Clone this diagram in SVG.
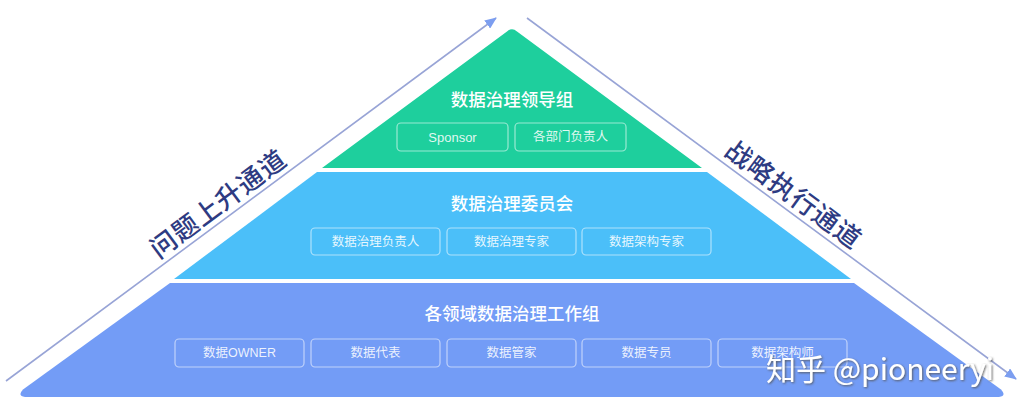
<svg xmlns="http://www.w3.org/2000/svg" width="1024" height="413" viewBox="0 0 1024 413">
<defs>
<style>
.title{font-family:"Noto Sans CJK SC","Liberation Sans",sans-serif;font-size:17.5px;font-weight:500;fill:#ffffff;text-anchor:middle;dominant-baseline:central}
.lbl{font-family:"Liberation Sans","Noto Sans CJK SC",sans-serif;font-size:12.5px;fill:#ffffff;fill-opacity:0.88;text-anchor:middle;dominant-baseline:central}
.box{fill:none;stroke:#ffffff;stroke-opacity:0.55;stroke-width:1.2}
.chan{font-family:"Noto Sans CJK SC",sans-serif;font-size:26px;font-weight:500;fill:#2e3b82;text-anchor:middle;dominant-baseline:central;letter-spacing:1px}
.line{stroke:#98a4d6;stroke-width:1.6;fill:none}
</style>
<marker id="ah" viewBox="0 0 12 10" refX="11" refY="5" markerWidth="12" markerHeight="10" markerUnits="userSpaceOnUse" orient="auto">
<path d="M0,0 L12,5 L0,10 Z" fill="#7c9ef0"/>
</marker>
<filter id="ws" x="-10%" y="-30%" width="120%" height="160%">
<feDropShadow dx="1" dy="1" stdDeviation="0.8" flood-color="#555555" flood-opacity="0.9"/>
</filter>
</defs>
<rect width="1024" height="413" fill="#ffffff"/>

<g id="connectors">
<line class="line" x1="6" y1="381" x2="496" y2="18" marker-end="url(#ah)"/>
<line class="line" x1="527" y1="18" x2="1016" y2="379" marker-end="url(#ah)"/>
</g>

<g id="leadership">
<path d="M322,168 L507,31.5 Q512,27 517,31.5 L702,168 Z" fill="#1ecf9d"/>
<text class="title" x="512" y="98">数据治理领导组</text>
<rect class="box" x="397" y="123" width="111" height="28" rx="4"/>
<text class="lbl" x="452.5" y="137" style="font-size:13px">Sponsor</text>
<rect class="box" x="515" y="123" width="111" height="28" rx="4"/>
<text class="lbl" x="570.5" y="137">各部门负责人</text>
</g>

<g id="committee">
<path d="M317,172 L707,172 L851,279 L174,279 Z" fill="#4bbff9"/>
<text class="title" x="512" y="202">数据治理委员会</text>
<rect class="box" x="311" y="228" width="129" height="27" rx="4"/>
<text class="lbl" x="375.5" y="241.5">数据治理负责人</text>
<rect class="box" x="447" y="228" width="129" height="27" rx="4"/>
<text class="lbl" x="511.5" y="241.5">数据治理专家</text>
<rect class="box" x="582" y="228" width="129" height="27" rx="4"/>
<text class="lbl" x="646.5" y="241.5">数据架构专家</text>
</g>

<g id="workgroup">
<path d="M170,283 L854,283 L1001,389.5 Q1007,396 999,397 L25,397 Q17,396 23,389.5 Z" fill="#739cf6"/>
<text class="title" x="512" y="312">各领域数据治理工作组</text>
<rect class="box" x="175" y="339" width="129" height="28" rx="4"/>
<text class="lbl" x="239.5" y="353">数据OWNER</text>
<rect class="box" x="311" y="339" width="129" height="28" rx="4"/>
<text class="lbl" x="375.5" y="353">数据代表</text>
<rect class="box" x="447" y="339" width="129" height="28" rx="4"/>
<text class="lbl" x="511.5" y="353">数据管家</text>
<rect class="box" x="582" y="339" width="129" height="28" rx="4"/>
<text class="lbl" x="646.5" y="353">数据专员</text>
<rect class="box" x="718" y="339" width="129" height="28" rx="4"/>
<text class="lbl" x="782.5" y="353">数据架构师</text>
</g>

<g id="channel-up">
<text class="chan" transform="translate(217,202) rotate(-36.5)">问题上升通道</text>
</g>
<g id="channel-down">
<text class="chan" transform="translate(795,193) rotate(36.5)">战略执行通道</text>
</g>

<g id="watermark">
<text x="766" y="380" font-family="'Noto Sans CJK SC','Liberation Sans',sans-serif" font-size="30" fill="#ffffff" filter="url(#ws)">知乎 @pioneeryi</text>
</g>
</svg>
